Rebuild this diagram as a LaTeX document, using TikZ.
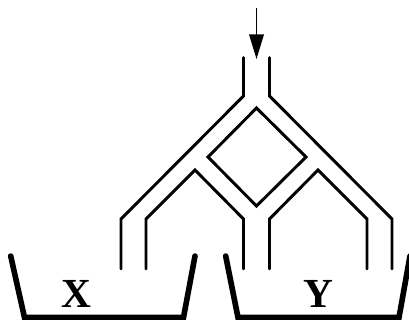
\documentclass[tikz,border=0pt]{standalone}
\usepackage{fontspec}
\setmainfont{Liberation Serif}
\usetikzlibrary{arrows.meta}
\tikzset{
 pipe/.style={line width=2.2pt,line cap=round,line join=miter},
 bucket/.style={line width=4.2pt,line cap=round,line join=miter},
 letter/.style={inner sep=0pt,font=\fontsize{31}{31}\selectfont\bfseries},
 feed/.style={line width=1.2pt,-{Triangle[length=18.5pt,width=11pt]}}
}
\begin{document}
\begin{tikzpicture}[x=0.75pt,y=-0.75pt]
\path[use as bounding box] (0,0) rectangle (409,320);
\begin{scope}
\clip (0,0) rectangle (409,320);
\coordinate (a0) at (256.5,8);
\coordinate (a1) at (256.5,59);
\draw[feed] (a0) -- (a1);
\draw[pipe] (243.5,57.5) -- (243.5,96) -- (121,219) -- (121,269);
\draw[pipe] (269.5,57.5) -- (269.5,96) -- (392,219) -- (392,269);
\draw[pipe] (256.5,108) -- (208,157) -- (256.5,206) -- (306,157) -- cycle;
\draw[pipe] (146,269) -- (146,219) -- (195,170) -- (243.5,219) -- (243.5,269);
\draw[pipe] (269.5,269) -- (269.5,219) -- (318,170) -- (367,219) -- (367,269);
\draw[bucket] (10.7,256) -- (24.5,317.5) -- (183.5,317.5) -- (195,256);
\draw[bucket] (225.7,256) -- (238,317.5) -- (399,317.5) -- (410,256);
\node[letter] (x) at (76,294) {X};
\node[letter] (y) at (318,294) {Y};
\end{scope}
\end{tikzpicture}
\end{document}
